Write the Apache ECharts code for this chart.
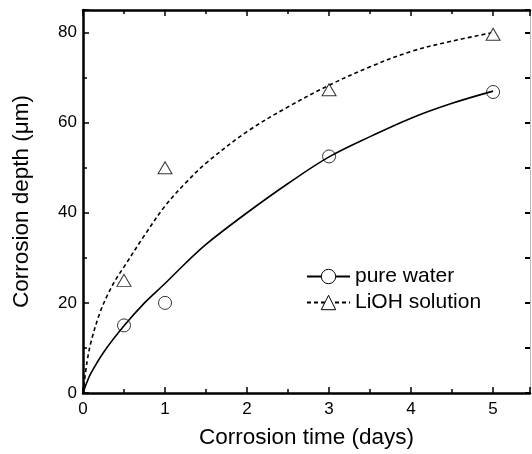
<!DOCTYPE html>
<html>
<head>
<meta charset="utf-8">
<script src="https://cdn.jsdelivr.net/npm/echarts@6/dist/echarts.min.js"></script>
<style>
  html, body { margin: 0; padding: 0; background: #fff; }
  #main { width: 532px; height: 454px; }
</style>
</head>
<body>
<div id="main"></div>
<script>
// measured points
var dayPts = [0.5, 1, 3, 5];
var waterPts = [15, 20, 52.5, 66.8];
var liohPts = [25, 50, 67.3, 79.6];

// fitted curves
var waterFitX = [0, 0.05, 0.1, 0.25, 0.5, 0.75, 1, 1.25, 1.5, 2, 2.5, 3, 3.5, 4, 4.5, 5];
var waterFitY = [0, 2.5, 4.5, 9, 14.9, 20, 24.3, 28.8, 33, 40, 46.5, 52.4, 56.9, 61, 64.3, 67];
var liohFitX = [0, 0.05, 0.1, 0.2, 0.3, 0.4, 0.5, 0.75, 1, 1.25, 1.5, 2, 2.5, 3, 3.5, 4, 4.5, 5];
var liohFitY = [0, 7, 11.5, 17.5, 21.8, 25.2, 28, 35, 41.5, 46.6, 51, 58, 63.5, 68.3, 72.4, 75.8, 78.1, 80];

var xTicks = [0, 1, 2, 3, 4, 5];
var yTicks = [0, 20, 40, 60, 80];

function pairs(xs, ys) {
  return xs.map(function (x, i) { return [x, ys[i]]; });
}

var font = "Liberation Sans, Arial, sans-serif";
var myChart = echarts.init(document.getElementById("main"));

var baseX = {
  type: "value",
  min: 0,
  max: 5.45,
  interval: 1,
  splitLine: { show: false },
  minorTick: { show: true, splitNumber: 2, length: 4, lineStyle: { color: "#000", width: 1.5 } },
  axisTick: { show: true, inside: true, length: 6, lineStyle: { color: "#000", width: 1.5 } }
};

myChart.setOption({
  animation: false,
  textStyle: { fontFamily: font, color: "#000" },
  grid: { left: 83, top: 10, width: 447, height: 383 },
  legend: {
    orient: "vertical",
    left: 301,
    top: 261,
    itemWidth: 43,
    itemHeight: 18,
    itemGap: 5,
    itemStyle: { color: "#fff", borderColor: "#000", borderWidth: 1 },
    textStyle: { fontFamily: font, fontSize: 21, color: "#000" },
    data: ["pure water", "LiOH solution"]
  },
  xAxis: [
    Object.assign({}, baseX, {
      position: "bottom",
      name: "Corrosion time (days)",
      nameLocation: "middle",
      nameGap: 33,
      nameTextStyle: { fontFamily: font, fontSize: 22.5, color: "#000" },
      axisLine: { onZero: false, lineStyle: { color: "#000", width: 2.5 } },
      axisLabel: {
        color: "#000", fontSize: 17, margin: 8, showMaxLabel: false,
        formatter: function (v) { return xTicks.indexOf(v) >= 0 ? String(v) : ""; }
      }
    }),
    Object.assign({}, baseX, {
      position: "top",
      axisLine: { onZero: false, lineStyle: { color: "#000", width: 2.5 } },
      axisLabel: { show: false }
    })
  ],
  yAxis: [
    {
      type: "value",
      position: "left",
      min: 0,
      max: 85,
      interval: 20,
      name: "Corrosion depth (\u03bcm)",
      nameLocation: "middle",
      nameGap: 50,
      nameTextStyle: { fontFamily: font, fontSize: 22.5, color: "#000" },
      splitLine: { show: false },
      axisLine: { onZero: false, lineStyle: { color: "#000", width: 2.5 } },
      axisTick: { inside: true, length: 6, lineStyle: { color: "#000", width: 1.5 } },
      minorTick: { show: true, splitNumber: 2, length: 4, lineStyle: { color: "#000", width: 1.5 } },
      axisLabel: {
        color: "#000", fontSize: 17, margin: 6, showMaxLabel: false,
        formatter: function (v) { return yTicks.indexOf(v) >= 0 ? String(v) : ""; }
      }
    },
    {
      type: "value",
      position: "right",
      min: 0,
      max: 85,
      interval: 10,
      splitLine: { show: false },
      axisLine: { onZero: false, lineStyle: { color: "#aaa", width: 1, type: "dotted" } },
      axisTick: { inside: true, length: 5, lineStyle: { color: "#000", width: 2 } },
      axisLabel: { show: false }
    }
  ],
  series: [
    {
      name: "pure water",
      type: "line",
      data: pairs(waterFitX, waterFitY),
      smooth: 0.35,
      showSymbol: false,
      symbol: "circle",
      symbolSize: 13,
      itemStyle: { color: "#fff", borderColor: "#000", borderWidth: 1 },
      lineStyle: { color: "#000", width: 1.6 },
      z: 3
    },
    {
      name: "LiOH solution",
      type: "line",
      data: pairs(liohFitX, liohFitY),
      smooth: 0.35,
      showSymbol: false,
      symbol: "triangle",
      symbolSize: 13,
      itemStyle: { color: "#fff", borderColor: "#000", borderWidth: 1 },
      lineStyle: { color: "#000", width: 1.6, type: [4, 3] },
      z: 3
    },
    {
      name: "pure water",
      type: "scatter",
      data: pairs(dayPts, waterPts),
      symbol: "circle",
      symbolSize: 13,
      itemStyle: { color: "rgba(255,255,255,0)", borderColor: "#000", borderWidth: 1 },
      z: 4
    },
    {
      name: "LiOH solution",
      type: "scatter",
      data: pairs(dayPts, liohPts),
      symbol: "triangle",
      symbolSize: [14, 12],
      itemStyle: { color: "#fff", borderColor: "#000", borderWidth: 1 },
      z: 4
    }
  ]
});
</script>
</body>
</html>
